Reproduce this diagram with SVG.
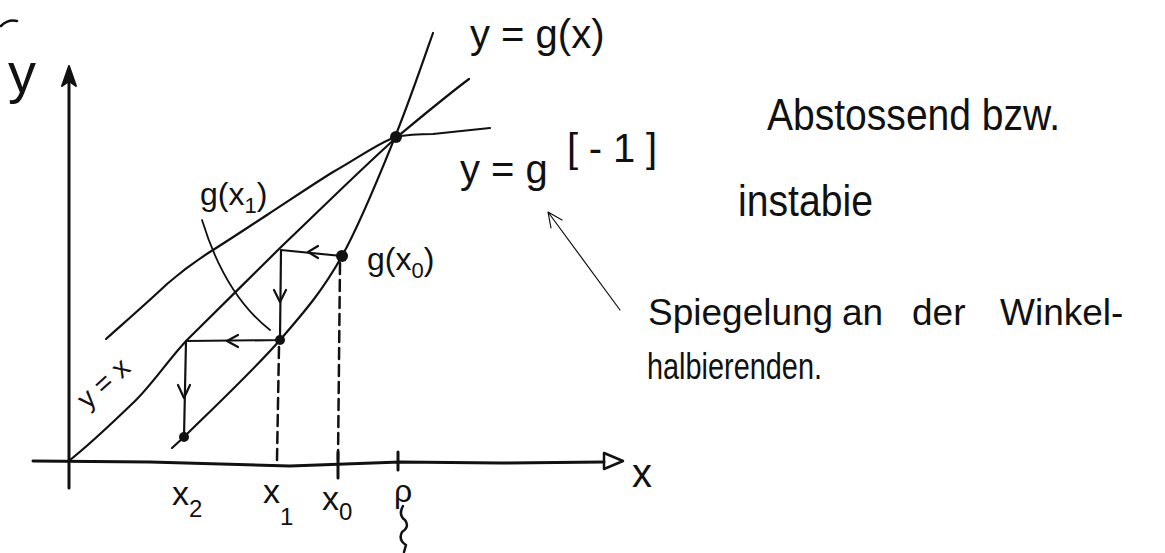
<svg xmlns="http://www.w3.org/2000/svg" width="1165" height="553" viewBox="0 0 1165 553">
<style>
.ln{fill:none;stroke:#111;stroke-linecap:round;stroke-linejoin:round}
.ax{stroke-width:3}
.cv{stroke-width:2.2}
.th{stroke-width:1.2}
.ds{stroke-width:2.5;stroke-dasharray:11 6}
.dot{fill:#111}
text{font-family:"Liberation Sans","DejaVu Sans",sans-serif;fill:#111}
.note{font-size:37px}
</style>
<rect width="1165" height="553" fill="#fff"/>
<g id="axes">
<path class="ln ax" d="M69,488 L69,80"/>
<path d="M69,66 L62,86 L69,81 L76,86 Z" fill="#111" stroke="#111" stroke-width="2" stroke-linejoin="round"/>
<path class="ln ax" d="M33,461 L150,462 L290,466 L400,462 L500,463 L604,462"/>
<path class="ln" stroke-width="2.5" d="M604,453 L623,461 L604,469 Z"/>
<path class="ln ax" d="M338,452 L338,478"/>
<path class="ln ax" d="M398,452 L398,470"/>
<path class="ln" stroke-width="2.5" d="M1,26 Q8,19 17,21"/>
</g>
<g id="curves">
<path id="g-curve" class="ln cv" d="M172,448 L184,437 C202,419 254,370 280,340 C306,310 323,290 342,256 C361,222 380,174 395,137 C410,100 427,50 433,33"/>
<path id="diagonal" class="ln cv" d="M70,460 C95,440 115,420 133,403 C152,385 168,360 187,340 C215,312 250,278 280,248 C320,210 360,170 397,137 C420,118 445,97 469,79"/>
<path id="inverse" class="ln cv" d="M106,339 C125,322 148,302 167,284 C182,271 197,260 213,250 C232,238 250,226 267,215 C290,200 312,185 333,172 C355,160 375,145 395,137 C410,134 420,134 433,134 C452,132 470,130 490,128"/>
</g>
<g id="staircase">
<path class="ln cv" d="M342,256 L281,250 L280,340 L186,341 L184,437"/>
<path class="ln cv" d="M318,246 L308,252 L318,258"/>
<path class="ln cv" d="M274,290 L280,302 L286,290"/>
<path class="ln cv" d="M238,335 L227,341 L238,347"/>
<path class="ln cv" d="M178,385 L184,398 L190,385"/>
<path class="ln ds" d="M279,347 L277,460"/>
<path class="ln ds" d="M340,263 L338,460"/>
<circle class="dot" cx="396" cy="137" r="6"/>
<circle class="dot" cx="342" cy="256" r="6"/>
<circle class="dot" cx="280" cy="340" r="5"/>
<circle class="dot" cx="184" cy="437" r="5"/>
</g>
<g id="connectors">
<path class="ln" stroke-width="1.8" d="M202,220 Q225,295 270,330"/>
<path class="ln th" d="M620,310 L548,212 M551,228 L548,212 L562,220"/>
</g>
<g id="labels">
<text x="8" y="92" font-size="56">y</text>
<text x="470" y="48" font-size="40">y = g(x)</text>
<text x="460" y="183" font-size="40">y = g</text>
<text x="567" y="162" font-size="40" textLength="90" lengthAdjust="spacing">[-1]</text>
<text x="200" y="205" font-size="32">g(x<tspan font-size="22" dy="8">1</tspan><tspan dy="-8">)</tspan></text>
<text x="367" y="270" font-size="32">g(x<tspan font-size="22" dy="8">0</tspan><tspan dy="-8">)</tspan></text>
<text x="105" y="392" font-size="28" text-anchor="middle" transform="rotate(-42 105 385)">y = x</text>
<text x="172" y="505" font-size="34">x<tspan font-size="24" dy="12">2</tspan></text>
<text x="263" y="503" font-size="34">x<tspan font-size="24" dy="22">1</tspan></text>
<text x="322" y="510" font-size="34">x<tspan font-size="24" dy="10">0</tspan></text>
<text x="394" y="502" font-size="32">ρ</text>
<path class="ln" stroke-width="2.5" d="M403,506 Q398,515 405,520 Q410,527 402,532 Q398,540 406,545 L404,552"/>
<text x="632" y="487" font-size="40">x</text>
<text x="767" y="130" font-size="44" textLength="293" lengthAdjust="spacingAndGlyphs">Abstossend bzw.</text>
<text x="738" y="216" font-size="44" textLength="135" lengthAdjust="spacingAndGlyphs">instabie</text>
<text class="note" y="325"><tspan x="648">Spiegelung</tspan><tspan x="842">an</tspan><tspan x="912">der</tspan><tspan x="1000">Winkel-</tspan></text>
<text class="note" x="647" y="379" textLength="175" lengthAdjust="spacingAndGlyphs">halbierenden.</text>
</g>
</svg>
